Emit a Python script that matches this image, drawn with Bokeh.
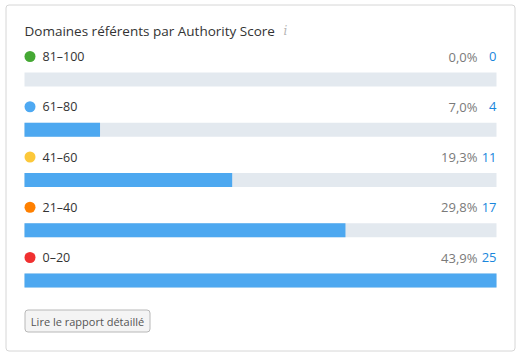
from bokeh.plotting import figure
from bokeh.models import Range1d
from bokeh.core.properties import value
from bokeh.embed import file_html
from bokeh.resources import INLINE

# ---- data ----
title = "Domaines référents par Authority Score"
categories = ["81–100", "61–80", "41–60", "21–40", "0–20"]
counts = [0, 4, 11, 17, 25]
percents = ["0,0%", "7,0%", "19,3%", "29,8%", "43,9%"]
dot_colors = ["#45a834", "#4ea9f2", "#fcc83a", "#ff8000", "#f03030"]
button_label = "Lire le rapport détaillé"

# ---- layout (pixels) ----
W, H = 520, 355
TRACK_L, TRACK_R = 24, 496
MAXC = max(counts)
S = MAXC / (TRACK_R - TRACK_L)      # data units per pixel


def px(x):
    return (x - TRACK_L) * S


FONT = "Open Sans"
ROW0, ROW_STEP = 79, 50.25

p = figure(width=W, height=H, output_backend="svg", toolbar_location=None,
           x_range=Range1d(px(0), px(W)), y_range=Range1d(H, 0),
           min_border=0, min_border_left=0, min_border_right=0,
           min_border_top=0, min_border_bottom=0)
p.axis.visible = False
p.grid.visible = False
p.outline_line_color = None
p.background_fill_color = "white"
p.border_fill_color = "white"

# card
p.quad(left=[px(5.5)], right=[px(514.5)], top=[4.5], bottom=[350.5],
       fill_color="white", line_color="#d6d6d6", line_width=1,
       border_radius=3)

# title
p.text(x=[px(24)], y=[30], text=[title], text_font=value(FONT),
       text_font_size="13.5px", text_color="#333333", text_baseline="middle")
p.text(x=[px(283)], y=[30], text=["i"], text_font=value("DejaVu Serif"),
       text_font_style="italic", text_font_size="12px",
       text_color="#b5b5b5", text_baseline="middle")

rows = [ROW0 + ROW_STEP * i for i in range(len(categories))]
label_y = [r - 23 for r in rows]

# tracks and bars
p.hbar(y=rows, left=0, right=[MAXC] * len(rows), height=14,
       fill_color="#e3e9ef", line_color=None)
p.hbar(y=rows, left=0, right=counts, height=14,
       fill_color="#4da8f0", line_color=None)

# dots and labels
p.scatter(x=[px(29.5)] * len(rows), y=label_y, size=11,
          fill_color=dot_colors, line_color=None)
p.text(x=[px(42)] * len(rows), y=label_y, text=categories,
       text_font=value(FONT), text_font_size="12.5px", text_color="#333333",
       text_baseline="middle")
p.text(x=[px(477)] * len(rows), y=label_y, text=percents,
       text_font=value(FONT), text_font_size="13px", text_color="#7a7a7a",
       text_baseline="middle", text_align="right")
p.text(x=[px(496)] * len(rows), y=label_y, text=[str(c) for c in counts],
       text_font=value(FONT), text_font_size="13px", text_color="#1a86dc",
       text_baseline="middle", text_align="right")

# button
p.quad(left=[px(24.5)], right=[px(149.5)], top=[309.5], bottom=[331.5],
       fill_color="#f4f4f4", line_color="#b8b8b8", border_radius=3)
p.text(x=[px(87)], y=[320.5], text=[button_label], text_font=value(FONT),
       text_font_size="11px", text_color="#555555", text_baseline="middle",
       text_align="center")

open("out.html", "w").write(file_html(p, INLINE))
